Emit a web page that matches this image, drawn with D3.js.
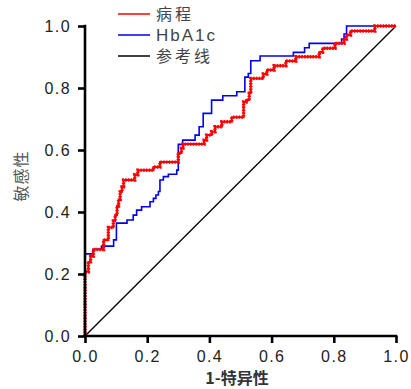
<!DOCTYPE html>
<html><head><meta charset="utf-8">
<script src="https://cdn.jsdelivr.net/npm/d3@7/dist/d3.min.js"></script>
<style>
body{margin:0;background:#fff;}
svg{display:block;}
</style></head>
<body>
<svg id="chart" width="411" height="389"></svg>
<script>
// ROC step vertices (top of each vertical step), drawn with curveStepAfter
const redFpr = [0,0,0.011,0.018,0.027,0.060,0.075,0.091,0.097,0.103,0.108,0.113,0.119,0.124,0.160,0.170,0.220,0.241,0.300,0.310,0.315,0.383,0.391,0.407,0.418,0.440,0.472,0.510,0.518,0.528,0.533,0.573,0.585,0.608,0.646,0.678,0.753,0.764,0.804,0.833,0.841,0.854,0.932,1.0];
const redTpr = [0,0.207,0.239,0.258,0.279,0.310,0.350,0.371,0.390,0.419,0.440,0.465,0.481,0.503,0.520,0.535,0.545,0.561,0.590,0.606,0.619,0.632,0.648,0.659,0.675,0.691,0.706,0.755,0.761,0.783,0.831,0.845,0.858,0.872,0.887,0.901,0.915,0.928,0.944,0.958,0.971,0.984,1.0,1.0];
const blueFpr = [0,0,0.026,0.053,0.092,0.101,0.135,0.155,0.166,0.182,0.209,0.220,0.228,0.236,0.241,0.252,0.268,0.295,0.300,0.314,0.354,0.367,0.380,0.407,0.443,0.488,0.514,0.525,0.533,0.563,0.670,0.706,0.721,0.825,0.833,0.841,1.0];
const blueTpr = [0,0.265,0.280,0.290,0.310,0.364,0.374,0.390,0.406,0.417,0.433,0.444,0.455,0.466,0.503,0.514,0.522,0.535,0.618,0.632,0.648,0.675,0.718,0.761,0.775,0.788,0.835,0.847,0.888,0.903,0.915,0.930,0.944,0.958,0.974,1.0,1.0];
const refFpr = [0,1];
const refTpr = [0,1];
const tickValues = [0,0.2,0.4,0.6,0.8,1.0];
const seriesNames = ["病程","HbA1c","参考线"];
const seriesColors = ["#ff0000","#0000ee","#000000"];
const xTitle = "1-特异性";
const yTitle = "敏感性";

const svg = d3.select("#chart");
const x = d3.scaleLinear().domain([0,1]).range([85,396]);
const y = d3.scaleLinear().domain([0,1]).range([336,26]);

const line = d3.line().x(d=>x(d[0])).y(d=>y(d[1]));
const stepLine = d3.line().x(d=>x(d[0])).y(d=>y(d[1])).curve(d3.curveStepAfter);

const red = redFpr.map((v,i)=>[v,redTpr[i]]);
const blue = blueFpr.map((v,i)=>[v,blueTpr[i]]);
const ref = refFpr.map((v,i)=>[v,refTpr[i]]);

// reference
svg.append("path").attr("d", line(ref)).attr("fill","none").attr("stroke","#000").attr("stroke-width",1.3);
// blue
svg.append("path").attr("d", stepLine(blue)).attr("fill","none").attr("stroke",seriesColors[1]).attr("stroke-width",1.6);
// red with dotted marker look
svg.append("path").attr("d", stepLine(red)).attr("fill","none").attr("stroke",seriesColors[0]).attr("stroke-width",2);
svg.append("path").attr("d", stepLine(red)).attr("fill","none").attr("stroke",seriesColors[0]).attr("stroke-width",3.4).attr("stroke-dasharray","1.6,1.2");

// axes
const fmt = d3.format(".1f");
const gx = svg.append("g").attr("transform","translate(0,336)")
  .call(d3.axisBottom(x).tickValues(tickValues).tickFormat(fmt).tickSize(7).tickSizeOuter(0).tickPadding(8));
const gy = svg.append("g").attr("transform","translate(85,0)")
  .call(d3.axisLeft(y).tickValues(tickValues).tickFormat(fmt).tickSize(7).tickSizeOuter(0).tickPadding(7));
[gx,gy].forEach(g=>{
  g.select(".domain").attr("stroke","#000").attr("stroke-width",2.6);
  g.selectAll(".tick line").attr("stroke","#000").attr("stroke-width",2.6);
  g.selectAll(".tick text").attr("fill","#222").style("font-family","'Liberation Sans',Arial,sans-serif").style("font-size","16px").style("letter-spacing","1.4px");
});
gx.select(".domain").attr("d","M"+(x(0)-1.3)+",0H"+(x(1)+1.3));
gy.select(".domain").attr("d","M0,"+(y(0)+1.3)+"V"+(y(1)-1.3));

// titles
svg.append("text").attr("x",237).attr("y",383.5).attr("text-anchor","middle")
  .style("font-family","'Noto Sans CJK SC',sans-serif").style("font-size","16px").style("font-weight","bold").attr("fill","#333")
  .text(xTitle);
svg.append("text").attr("transform","translate(27,176) rotate(-90)").attr("text-anchor","middle")
  .style("font-family","'Noto Sans CJK SC',sans-serif").style("font-size","16px").style("letter-spacing","1px").attr("fill","#555")
  .text(yTitle);

// legend
const lg = svg.append("g");
seriesNames.forEach((n,i)=>{
  const yy = 14 + i*21;
  lg.append("line").attr("x1",118).attr("x2",150).attr("y1",yy).attr("y2",yy).attr("stroke",seriesColors[i]).attr("stroke-width",1.5);
  lg.append("text").attr("x",156).attr("y",yy+6).attr("fill","#444")
    .style("font-family", i===1 ? "'Liberation Sans',Arial,sans-serif" : "'Noto Sans CJK SC',sans-serif")
    .style("font-size", i===1 ? "17px" : "16px").style("letter-spacing", i===1 ? "2px" : "3px")
    .text(n);
});
</script>
</body></html>
